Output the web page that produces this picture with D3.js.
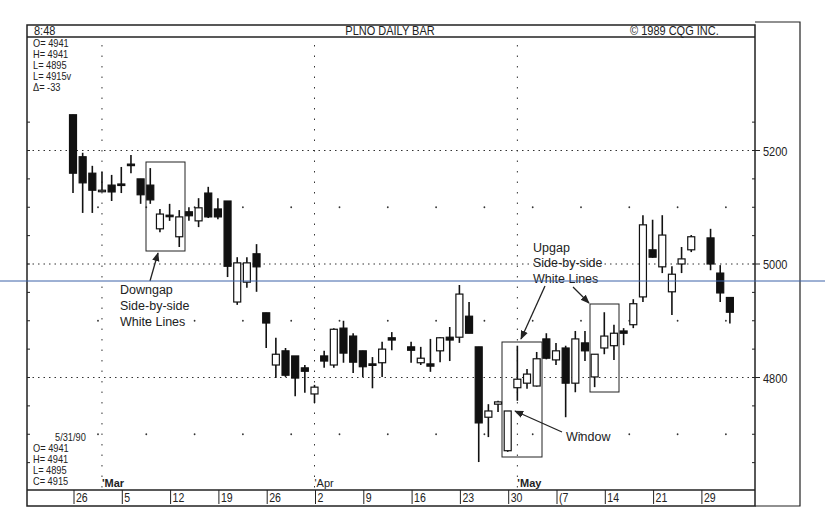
<!DOCTYPE html>
<html><head><meta charset="utf-8">
<script src="https://d3js.org/d3.v7.min.js"></script>
<style>body{margin:0;background:#fff}text{font-family:"Liberation Sans",Arial,sans-serif;fill:#222}</style>
</head><body>
<script>
// daily OHLC, PLNO, 26 Feb - 31 May 1990 (Good Friday and Memorial Day closed)
var holidays=["1990-04-13","1990-05-28"];
var open_=[5263,5189,5160,5130,5139,5141,5176,5150,5139,5062,5086,5048,5092,5076,5125,5097,5111,4933,4968,5018,4914,4822,4847,4838,4817,4771,4838,4822,4887,4873,4847,4824,4826,4870,4854,4826,4824,4847,4871,4871,4908,4854,4730,4753,4671,4782,4790,4785,4868,4831,4852,4790,4861,4801,4852,4856,4882,4893,4942,5025,4995,4951,5000,5025,5046,4984,4941];
var high=[5263,5196,5173,5162,5157,5171,5192,5150,5169,5097,5106,5095,5100,5116,5136,5116,5111,5012,5012,5035,4914,4870,4852,4838,4822,4787,4847,4887,4900,4878,4847,4836,4863,4880,4863,4854,4868,4871,4889,4963,4933,4854,4753,4759,4741,4856,4815,4845,4878,4861,4856,4882,4882,4841,4915,4893,4887,4938,5086,5078,5086,4996,5030,5051,5062,4998,4941];
var low=[5125,5090,5090,5128,5111,5125,5160,5106,5106,5056,5076,5030,5076,5065,5081,5079,4977,4928,4958,4951,4852,4799,4801,4767,4773,4755,4817,4817,4826,4808,4801,4781,4801,4848,4826,4822,4810,4827,4829,4861,4878,4651,4695,4739,4669,4759,4780,4784,4832,4822,4730,4774,4829,4783,4841,4831,4857,4887,4933,5011,4984,4910,4984,5021,4989,4933,4895];
var close=[5160,5143,5130,5130,5127,5139,5174,5122,5113,5088,5085,5083,5085,5099,5083,5083,4996,5002,5002,4995,4896,4841,4804,4799,4811,4783,4829,4885,4843,4827,4819,4822,4850,4866,4848,4834,4820,4870,4866,4947,4878,4720,4741,4757,4741,4797,4806,4833,4834,4847,4790,4868,4847,4841,4873,4878,4878,4930,5069,5012,5051,4982,5009,5048,5000,4949,4915];
var priceTicks=[5200,5000,4800];
var minorLevels=[5100,4900,4700];
var weekLabels=["26","5","12","19","26","2","9","16","23","30","(7","14","21","29"];
var monthMarks=[{d:"1990-03-01",t:"'Mar",b:true},{d:"1990-04-02",t:"'Apr",b:false},{d:"1990-05-01",t:"'May",b:true}];
var headLines=["O= 4941","H= 4941","L= 4895","L= 4915v","\u0394=  -33"];
var footLines=["5/31/90","O= 4941","H= 4941","L= 4895","C= 4915"];

var parse=d3.timeParse("%Y-%m-%d"), fmt=d3.timeFormat("%Y-%m-%d");
var weekdays=d3.timeDay.range(parse("1990-02-26"),parse("1990-06-01")).filter(d=>d.getDay()>0&&d.getDay()<6);
var slotOf=function(d){return weekdays.findIndex(w=>+w==+d);};
var dates=weekdays.filter(d=>holidays.indexOf(fmt(d))<0);

var L=27,R=755,T=25,B=490;
var x=d3.scaleLinear().domain([0,68]).range([73,73+68*9.66]);
var y=d3.scaleLinear().domain([4800,5200]).range([377.5,150.5]);

var svg=d3.select("body").append("svg").attr("width",825).attr("height",516);

// frame
svg.append("rect").attr("x",L).attr("y",T).attr("width",R-L).attr("height",506-T).attr("fill","none").attr("stroke","#222").attr("stroke-width",1.5);
svg.append("line").attr("x1",L).attr("x2",R).attr("y1",37).attr("y2",37).attr("stroke","#222").attr("stroke-width",1.5);
svg.append("line").attr("x1",L).attr("x2",R).attr("y1",B).attr("y2",B).attr("stroke","#222").attr("stroke-width",1.5);
svg.append("path").attr("d","M"+R+","+(T-3)+"H800V506H"+R).attr("fill","none").attr("stroke","#222").attr("stroke-width",1.2);

var cond="scale(0.88,1)";
function ctext(xx,yy,size,t,anchor){
  return svg.append("text").attr("transform","translate("+xx+","+yy+") "+cond).attr("font-size",size)
    .attr("text-anchor",anchor||"start").text(t);
}
ctext(34,35,12.5,"8:48");
ctext(390,35,12.5,"PLNO DAILY BAR","middle");
ctext(630,35,12.5,"\u00a9  1989 CQG INC.");

// grid
var g=svg.append("g");
priceTicks.forEach(function(v){
  g.append("line").attr("x1",L).attr("x2",R).attr("y1",y(v)).attr("y2",y(v)).attr("stroke","#333").attr("stroke-dasharray","1.5,4");
  g.append("line").attr("x1",R).attr("x2",R+5).attr("y1",y(v)).attr("y2",y(v)).attr("stroke","#222");
  ctext(763,y(v)+5,12.5,v);
});
d3.range(4650,5300,50).forEach(function(v){
  g.append("line").attr("x1",R-3).attr("x2",R).attr("y1",y(v)).attr("y2",y(v)).attr("stroke","#222");
  g.append("line").attr("x1",L).attr("x2",L+3).attr("y1",y(v)).attr("y2",y(v)).attr("stroke","#222");
});
var mondays=weekdays.filter(d=>d.getDay()==1);
minorLevels.forEach(function(v){
  mondays.forEach(function(m){
    g.append("circle").attr("cx",x(slotOf(m))+25).attr("cy",y(v)).attr("r",0.9).attr("fill","#333");
  });
});
monthMarks.forEach(function(m){
  var xx=x(slotOf(parse(m.d)));
  g.append("line").attr("x1",xx).attr("x2",xx).attr("y1",45).attr("y2",B).attr("stroke","#333").attr("stroke-dasharray","1.5,9");
  svg.append("text").attr("x",xx).attr("y",487).attr("font-size",11).attr("font-weight",m.b?"bold":"normal").text(m.t);
});

// bottom axis
mondays.forEach(function(m,i){
  var xx=x(slotOf(m))+1;
  svg.append("line").attr("x1",xx).attr("x2",xx).attr("y1",B).attr("y2",504).attr("stroke","#222");
  ctext(xx+2,502,12,weekLabels[i]);
});

// info text
headLines.forEach((t,i)=>ctext(33,47+i*11,10.5,t));
ctext(55,441,10.5,footLines[0]);
footLines.slice(1).forEach((t,i)=>ctext(33,452+i*11,10.5,t));

// candles
var c=svg.append("g").selectAll("g").data(dates).enter().append("g");
c.append("line").attr("x1",(d,i)=>x(slotOf(d))).attr("x2",(d,i)=>x(slotOf(d)))
 .attr("y1",(d,i)=>y(high[i])).attr("y2",(d,i)=>y(low[i])).attr("stroke","#111").attr("stroke-width",1.6);
c.append("rect").attr("x",d=>x(slotOf(d))-3.5).attr("width",7)
 .attr("y",(d,i)=>y(Math.max(open_[i],close[i])))
 .attr("height",(d,i)=>Math.max(1.5,Math.abs(y(open_[i])-y(close[i]))))
 .attr("fill",(d,i)=>close[i]<open_[i]?"#111":"#fff").attr("stroke","#111").attr("stroke-width",1.2);

// annotations
var ann=svg.append("g");
ann.append("defs").append("marker").attr("id","ah").attr("viewBox","0 0 10 10").attr("refX",9).attr("refY",5)
 .attr("markerWidth",7).attr("markerHeight",7).attr("orient","auto").append("path").attr("d","M0,1L10,5L0,9Z").attr("fill","#222");
[[146,162,185,251],[502,342,542,457],[590,304,619,392]].forEach(function(b){
  ann.append("rect").attr("x",b[0]).attr("y",b[1]).attr("width",b[2]-b[0]).attr("height",b[3]-b[1]).attr("fill","none").attr("stroke","#222");
});
[[150,281,158,253],[545,286,521,339],[573,287,589,303],[562,432,515,411]].forEach(function(a){
  ann.append("line").attr("x1",a[0]).attr("y1",a[1]).attr("x2",a[2]).attr("y2",a[3]).attr("stroke","#222").attr("stroke-width",1.3).attr("marker-end","url(#ah)");
});
[["Downgap",120,294],["Side-by-side",120,310],["White Lines",120,326],["Upgap",533,252],["Side-by-side",533,267],["White Lines",533,283],["Window",566,441]].forEach(function(t){
  ann.append("text").attr("x",t[1]).attr("y",t[2]).attr("font-size",12.5).text(t[0]);
});
svg.append("line").attr("x1",0).attr("x2",825).attr("y1",281).attr("y2",281).attr("stroke","#3d63a8").attr("stroke-width",1);
</script>
</body></html>
